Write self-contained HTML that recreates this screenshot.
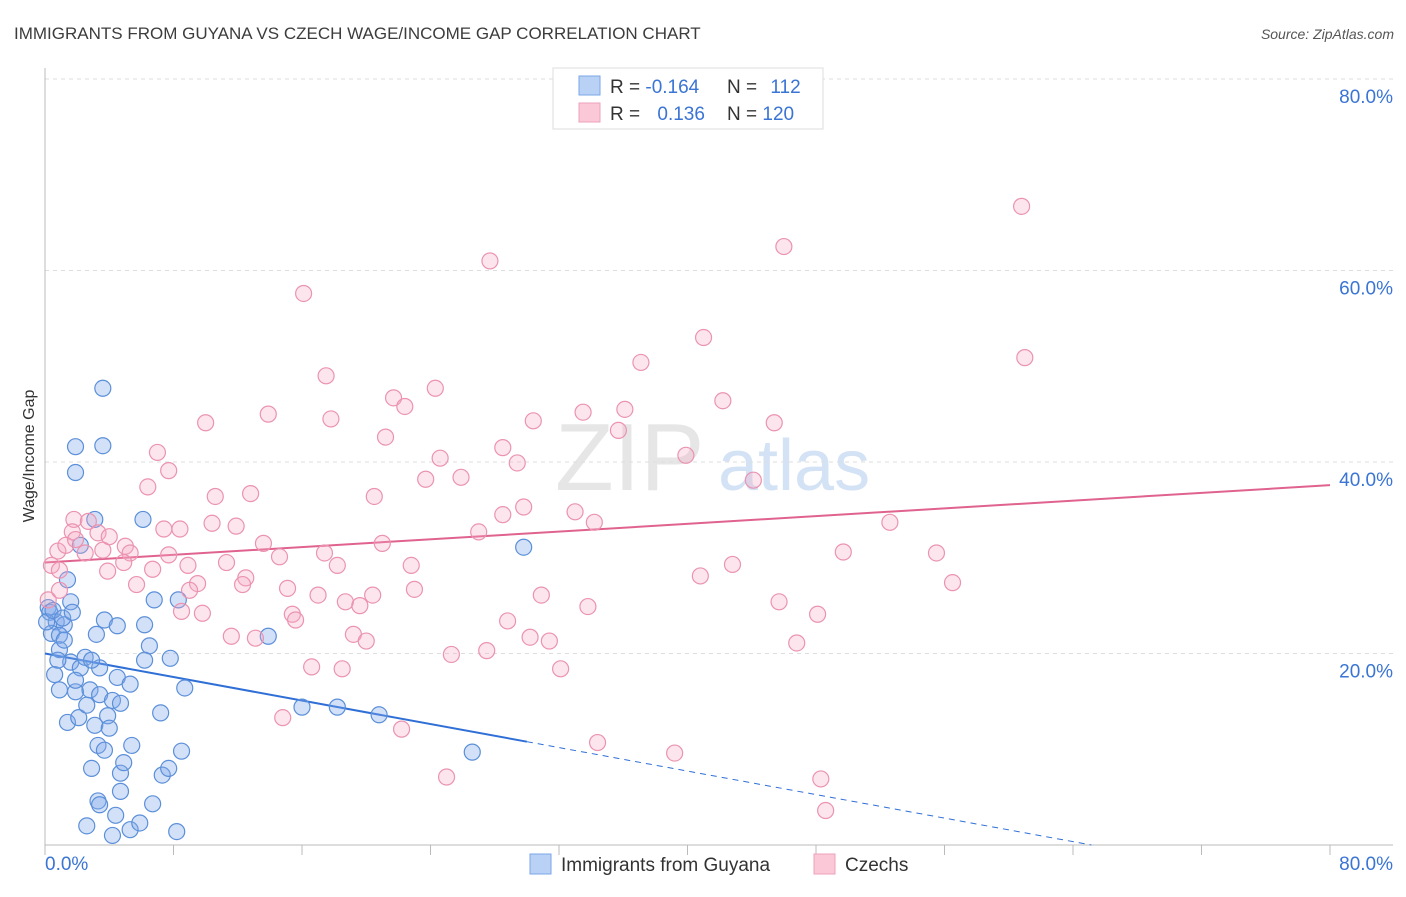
<!DOCTYPE html>
<html><head><meta charset="utf-8"><style>
body{margin:0;background:#fff;font-family:"Liberation Sans",sans-serif;}
svg text{font-family:"Liberation Sans",sans-serif;}
</style></head><body>
<svg id="chart" width="1406" height="892" viewBox="0 0 1406 892">
<text x="14" y="39" font-size="17" fill="#3c3c3c">IMMIGRANTS FROM GUYANA VS CZECH WAGE/INCOME GAP CORRELATION CHART</text>
<text x="1394" y="39" font-size="14" fill="#555" text-anchor="end" font-style="italic">Source: ZipAtlas.com</text>
<text x="0" y="0" transform="translate(34,456) rotate(-90)" font-size="16" fill="#333" text-anchor="middle">Wage/Income Gap</text>
<g><text x="555" y="490" font-size="96" fill="#e6e6e6" font-family="Liberation Serif,serif">ZIP</text><text x="718" y="490" font-size="72" fill="#d4e2f5">atlas</text></g>
<g id="grid"></g><g id="ticks"></g><g id="lines"></g><g id="pts"></g>
<g>
<rect x="553" y="68" width="270" height="61" fill="#fff" stroke="#ddd"/>
<rect x="579" y="76" width="21" height="19" fill="#b9d1f5" stroke="#7aa6e6"/>
<rect x="579" y="103" width="21" height="19" fill="#fac8d6" stroke="#eea2b9"/>
<text x="610" y="93" font-size="19" fill="#333">R = <tspan fill="#3a74d4">-0.164</tspan></text>
<text x="727" y="93" font-size="19" fill="#333">N = <tspan fill="#3a74d4" dx="8">112</tspan></text>
<text x="610" y="120" font-size="19" fill="#333">R = <tspan fill="#3a74d4" dx="12">0.136</tspan></text>
<text x="727" y="120" font-size="19" fill="#333">N = <tspan fill="#3a74d4">120</tspan></text>
</g>
<g>
<rect x="530" y="854" width="21" height="20" fill="#b9d1f5" stroke="#7aa6e6"/>
<text x="561" y="871" font-size="19" fill="#333">Immigrants from Guyana</text>
<rect x="814" y="854" width="21" height="20" fill="#fac8d6" stroke="#eea2b9"/>
<text x="845" y="871" font-size="19" fill="#333">Czechs</text>
</g>
</svg>
<script>
const xTicks=[0,8,16,24,32,40,48,56,64,72,80];
const yGrid=[20,40,60,80];
const yTickLabels=["20.0%","40.0%","60.0%","80.0%"];
const xEndLabels=["0.0%","80.0%"];
const blueX=[3.6,1.9,3.6,1.9,3.1,6.1,2.2,29.8,1.4,0.2,0.3,1.6,6.8,8.3,0.7,1.2,3.2,3.7,4.5,6.2,13.9,0.4,0.9,6.5,1.6,2.2,2.5,3.4,4.5,5.3,6.2,7.8,0.6,0.9,1.9,2.8,3.4,4.2,4.7,8.7,1.4,2.1,3.1,3.9,4.0,7.2,16.0,18.2,20.8,3.3,3.7,5.4,8.5,26.6,2.9,4.7,4.9,7.3,7.7,3.3,3.4,4.7,6.7,4.4,2.6,4.2,5.3,5.9,8.2,0.9,1.2,0.8,2.6,1.9,0.1,0.5,1.1,2.9,1.7];
const blueY=[47.7,41.6,41.7,38.9,34.0,34.0,31.3,31.1,27.7,24.8,24.3,25.4,25.6,25.6,23.3,23.0,22.0,23.5,22.9,23.0,21.8,22.1,21.9,20.8,19.1,18.5,19.6,18.5,17.5,16.8,19.3,19.5,17.8,16.2,16.0,16.2,15.7,15.1,14.8,16.4,12.8,13.3,12.5,13.5,12.2,13.8,14.4,14.4,13.6,10.4,9.9,10.4,9.8,9.7,8.0,7.5,8.6,7.3,8.0,4.6,4.2,5.6,4.3,3.1,2.0,1.0,1.6,2.3,1.4,20.4,21.4,19.3,14.6,17.2,23.3,24.5,23.7,19.3,24.3];
const pinkX=[60.8,46.0,27.7,16.1,41.0,61.0,37.1,17.5,24.3,21.7,22.4,42.2,33.5,36.1,13.9,17.8,30.4,10.0,35.7,45.4,21.2,7.0,28.5,24.6,39.9,7.7,29.4,23.7,25.9,44.1,6.4,12.8,10.6,20.5,29.8,33.0,28.5,34.2,52.6,11.9,10.4,8.4,7.4,1.8,2.7,3.3,1.7,27.0,13.6,21.0,5.0,0.8,2.5,3.6,5.3,7.7,11.3,14.6,17.4,18.2,8.9,22.8,49.7,55.5,42.8,6.7,3.9,4.9,40.8,9.5,12.5,12.3,15.1,56.5,5.7,9.0,17.0,20.4,18.7,19.6,23.0,30.9,33.8,45.7,48.1,8.5,9.8,15.4,15.6,28.8,11.6,13.1,19.2,20.0,30.2,31.4,46.8,25.3,27.5,16.6,18.5,32.1,14.8,22.2,34.4,39.2,25.0,48.3,48.6,0.2,0.4,0.9,0.9,1.3,1.9,4.0];
const pinkY=[66.7,62.5,61.0,57.6,53.0,50.9,50.4,49.0,47.7,46.7,45.8,46.4,45.2,45.5,45.0,44.5,44.3,44.1,43.3,44.1,42.6,41.0,41.5,40.4,40.7,39.1,39.9,38.2,38.4,38.1,37.4,36.7,36.4,36.4,35.3,34.8,34.5,33.7,33.7,33.3,33.6,33.0,33.0,34.0,33.8,32.6,32.7,32.7,31.5,31.5,31.2,30.7,30.5,30.8,30.5,30.3,29.5,30.1,30.5,29.2,29.2,29.2,30.6,30.5,29.3,28.8,28.6,29.5,28.1,27.3,27.9,27.2,26.8,27.4,27.2,26.6,26.1,26.1,25.4,25.0,26.7,26.1,24.9,25.4,24.1,24.4,24.2,24.1,23.5,23.4,21.8,21.6,22.0,21.3,21.7,21.3,21.1,19.9,20.3,18.6,18.4,18.4,13.3,12.1,10.7,9.6,7.1,6.9,3.6,25.6,29.2,26.6,28.7,31.3,31.9,32.2];
const blueTrend=[20.0,-0.307]; // intercept, slope
const blueSolidEnd=30;
const pinkTrend=[29.5,0.101];
const NS='http://www.w3.org/2000/svg';
const X0=45,X1=1330,Y0=845,Y80=79;
const sx=v=>X0+(v/80)*(X1-X0);
const sy=v=>Y0-(v/80)*(Y0-Y80);
function mk(tag,attrs,parent){const e=document.createElementNS(NS,tag);for(const k in attrs)e.setAttribute(k,attrs[k]);document.getElementById(parent).appendChild(e);return e;}
yGrid.forEach((v,i)=>{
 const l=mk('line',{x1:X0,x2:1393,y1:sy(v),y2:sy(v),stroke:'#ddd','stroke-dasharray':'4,4'},'grid');
 
 
 const t=mk('text',{x:1393,y:sy(v)+24,'font-size':19,fill:'#3a74d4','text-anchor':'end'},'grid');t.textContent=yTickLabels[i];
 
 
});
let ax=mk('line',{x1:X0,x2:X0,y1:68,y2:Y0,stroke:'#bbb'},'grid');


ax=mk('line',{x1:X0,x2:1393,y1:Y0,y2:Y0,stroke:'#bbb'},'grid');


xTicks.forEach(v=>{const t=mk('line',{x1:sx(v),x2:sx(v),y1:Y0,y2:Y0+10,stroke:'#bbb'},'ticks');
 
 });
let tl=mk('text',{x:45,y:870,'font-size':19,fill:'#3a74d4'},'ticks');tl.textContent=xEndLabels[0];


tl=mk('text',{x:1393,y:870,'font-size':19,fill:'#3a74d4','text-anchor':'end'},'ticks');tl.textContent=xEndLabels[1];


blueX.forEach((x,i)=>{const c=mk('circle',{cx:sx(x),cy:sy(blueY[i]),r:8,fill:'rgba(130,170,235,0.35)',stroke:'#5b8fd9','stroke-width':1.2},'pts');
 
 });
pinkX.forEach((x,i)=>{const c=mk('circle',{cx:sx(x),cy:sy(pinkY[i]),r:8,fill:'rgba(245,170,195,0.3)',stroke:'#eb93b0','stroke-width':1.2},'pts');
 
 });
const bz=-blueTrend[0]/blueTrend[1];
let ln=mk('line',{x1:sx(0),y1:sy(blueTrend[0]),x2:sx(blueSolidEnd),y2:sy(blueTrend[0]+blueTrend[1]*blueSolidEnd),stroke:'#2f6fd6','stroke-width':2},'lines');


ln=mk('line',{x1:sx(blueSolidEnd),y1:sy(blueTrend[0]+blueTrend[1]*blueSolidEnd),x2:sx(bz),y2:sy(0),stroke:'#2f6fd6','stroke-width':1,'stroke-dasharray':'6,5'},'lines');


ln=mk('line',{x1:sx(0),y1:sy(pinkTrend[0]),x2:sx(80),y2:sy(pinkTrend[0]+pinkTrend[1]*80),stroke:'#e0628e','stroke-width':2},'lines');


</script>
</body></html>
